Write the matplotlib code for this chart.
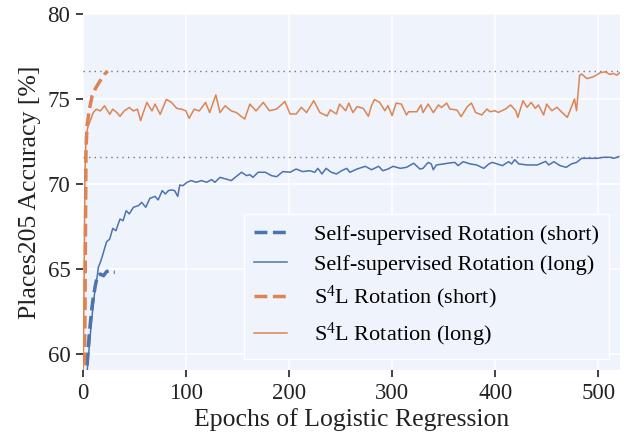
import matplotlib
matplotlib.use("Agg")
import matplotlib.pyplot as plt

plt.rcParams['font.family'] = ['Liberation Serif', 'DejaVu Serif']
plt.rcParams['mathtext.default'] = 'regular'

BLUE = '#4C72B0'
ORANGE = '#DD8452'

# ---- data ----
rot_short_ep = [0, 2, 4, 6, 8, 10, 12, 14, 17, 20, 23, 26, 29, 31]
rot_short_acc = [55.0, 57.5, 59.3, 61.0, 62.3, 63.3, 64.0, 64.6, 64.7, 64.6, 64.85, 64.9, 64.8, 64.8]

s4l_short_ep = [0, 1, 2, 3, 4, 6, 9, 12, 15, 18, 21, 24]
s4l_short_acc = [55.0, 57.0, 62.0, 72.0, 73.4, 74.3, 75.2, 75.6, 75.9, 76.2, 76.45, 76.65]

rot_long_ep = [0, 2, 4, 6, 8, 10, 12, 14, 15, 17, 19, 21, 23, 26, 29, 32, 34, 36, 39, 42, 45,
               49, 54, 57, 61, 65, 70, 73, 77, 80, 83, 86, 89, 92, 94, 97, 101, 105, 110, 115,
               120, 125, 128, 133, 139, 144, 149, 154, 159, 162, 165, 170, 177, 183, 188, 194,
               201, 207, 213, 220, 225, 228, 232, 236, 241, 246, 251, 256, 259, 266, 274, 280,
               287, 291, 296, 301, 308, 314, 321, 327, 330, 335, 338, 340, 343, 350, 356, 361,
               364, 369, 376, 382, 389, 394, 397, 402, 407, 413, 416, 419, 423, 431, 441, 449,
               452, 457, 463, 469, 474, 479, 484, 491, 499, 505, 512, 515, 520]
rot_long_acc = [56.0, 57.5, 58.9, 60.3, 61.7, 62.9, 63.9, 64.6, 65.1, 65.4, 65.78, 66.2, 66.6,
                66.76, 67.39, 67.25, 67.6, 67.94, 67.84, 68.43, 68.24, 68.63, 68.73, 68.92,
                68.63, 69.16, 69.27, 69.06, 69.61, 69.41, 69.61, 69.65, 69.61, 69.27, 69.94,
                69.9, 70.1, 70.2, 70.1, 70.2, 70.1, 70.26, 70.1, 70.39, 70.29, 70.2, 70.45,
                70.69, 70.49, 70.55, 70.39, 70.69, 70.69, 70.49, 70.43, 70.73, 70.69, 70.88,
                70.73, 70.78, 70.69, 70.92, 70.59, 70.92, 70.69, 70.59, 70.78, 70.92, 70.69,
                70.88, 71.04, 70.84, 71.04, 70.78, 70.88, 71.04, 70.92, 70.98, 71.22, 70.88,
                70.92, 71.27, 71.18, 70.84, 71.12, 71.18, 71.24, 71.27, 71.08, 71.31, 71.18,
                71.12, 70.92, 71.18, 71.27, 71.18, 71.08, 71.31, 71.18, 71.43, 71.18, 71.12,
                71.12, 71.33, 71.12, 71.31, 71.08, 70.98, 71.18, 71.27, 71.51, 71.51, 71.51,
                71.57, 71.57, 71.51, 71.61]

s4l_long_ep = [0, 1, 2, 3, 5, 7, 10, 13, 17, 21, 26, 29, 33, 36, 40, 45, 49, 53, 56, 62, 67, 70,
               75, 81, 86, 91, 96, 100, 103, 108, 113, 119, 123, 129, 133, 138, 144, 149, 157,
               162, 168, 175, 181, 188, 196, 201, 207, 212, 217, 224, 230, 237, 240, 246, 249,
               255, 258, 262, 266, 272, 277, 280, 283, 288, 293, 296, 300, 304, 309, 314, 316,
               324, 328, 330, 335, 340, 345, 348, 353, 356, 363, 367, 373, 377, 381, 387, 392,
               395, 400, 403, 410, 415, 420, 422, 427, 431, 435, 439, 442, 447, 450, 455, 460,
               465, 470, 473, 477, 479, 482, 484, 489, 495, 498, 502, 507, 511, 515, 518, 521]
s4l_long_acc = [57.5, 63.0, 70.5, 72.8, 73.4, 73.7, 74.2, 74.4, 74.3, 74.6, 74.1, 74.4, 74.2,
                73.98, 74.3, 74.5, 74.3, 74.4, 73.73, 74.8, 74.3, 74.7, 74.1, 74.98, 74.8,
                74.45, 74.4, 74.3, 73.86, 74.4, 74.3, 74.8, 74.2, 75.24, 74.2, 74.6, 74.3,
                74.2, 73.82, 74.7, 74.3, 74.8, 74.31, 74.41, 74.85, 74.12, 74.12, 74.51, 74.2,
                74.9, 74.2, 74.0, 74.36, 74.12, 74.7, 74.31, 74.76, 74.2, 74.55, 74.45, 73.98,
                74.61, 74.97, 74.8, 74.31, 74.61, 74.02, 74.76, 74.7, 74.06, 74.25, 74.25,
                74.65, 74.2, 74.7, 74.2, 74.65, 74.5, 74.76, 74.41, 74.35, 73.96, 74.55, 74.76,
                74.21, 74.06, 74.41, 74.25, 74.31, 74.21, 74.41, 74.65, 74.31, 73.92, 74.9,
                74.51, 74.8, 74.45, 74.65, 74.06, 74.7, 74.31, 74.51, 74.21, 73.92, 74.37,
                75.0, 74.31, 76.4, 76.47, 76.2, 76.3, 76.4, 76.55, 76.6, 76.45, 76.5, 76.4,
                76.55]

ref_levels = [76.65, 71.6]

labels = ['Self-supervised Rotation (short)', 'Self-supervised Rotation (long)',
          'S$^4$L Rotation (short)', 'S$^4$L Rotation (long)']

x_ticks = [0, 100, 200, 300, 400, 500]
y_ticks = [60, 65, 70, 75, 80]

# ---- figure ----
fig = plt.figure(figsize=(6.28, 4.38), dpi=100)
ax = fig.add_axes([0.132, 0.155, 0.855, 0.813])
ax.set_facecolor('#EFF3FC')
for s in ax.spines.values():
    s.set_visible(False)
ax.grid(True, color='white', linewidth=1.2)
ax.set_axisbelow(True)

for lvl in ref_levels:
    ax.axhline(lvl, color='#777777', linestyle=(0, (1, 3)), linewidth=1.0, zorder=1.5)

ax.plot(rot_short_ep, rot_short_acc, color=BLUE, linestyle='--', linewidth=2.5, label=labels[0])
ax.plot(rot_long_ep, rot_long_acc, color=BLUE, linewidth=1.1, label=labels[1])
ax.plot(s4l_short_ep, s4l_short_acc, color=ORANGE, linestyle='--', linewidth=2.5, label=labels[2])
ax.plot(s4l_long_ep, s4l_long_acc, color=ORANGE, linewidth=1.1, label=labels[3])

ax.set_xlim(0, 521)
ax.set_ylim(59.05, 80)
ax.set_xticks(x_ticks)
ax.set_yticks(y_ticks)
ax.tick_params(axis='both', direction='out', length=5, width=1.3, color='#333333',
               labelsize=16.5, labelcolor='#222222', pad=4)
ax.set_xlabel('Epochs of Logistic Regression', fontsize=18.5, color='#222222', labelpad=3)
ax.set_ylabel('Places205 Accuracy [%]', fontsize=18.5, color='#222222', labelpad=5)

leg = ax.legend(loc='lower right', fontsize=16, frameon=True, facecolor='#EFF3FC',
                edgecolor='white', framealpha=1.0, fancybox=False, handlelength=1.5,
                borderpad=0.45, labelspacing=0.42, handletextpad=1.2,
                bbox_to_anchor=(1.0, 0.0), borderaxespad=0.5)

fig.savefig('out.png', dpi=100)
